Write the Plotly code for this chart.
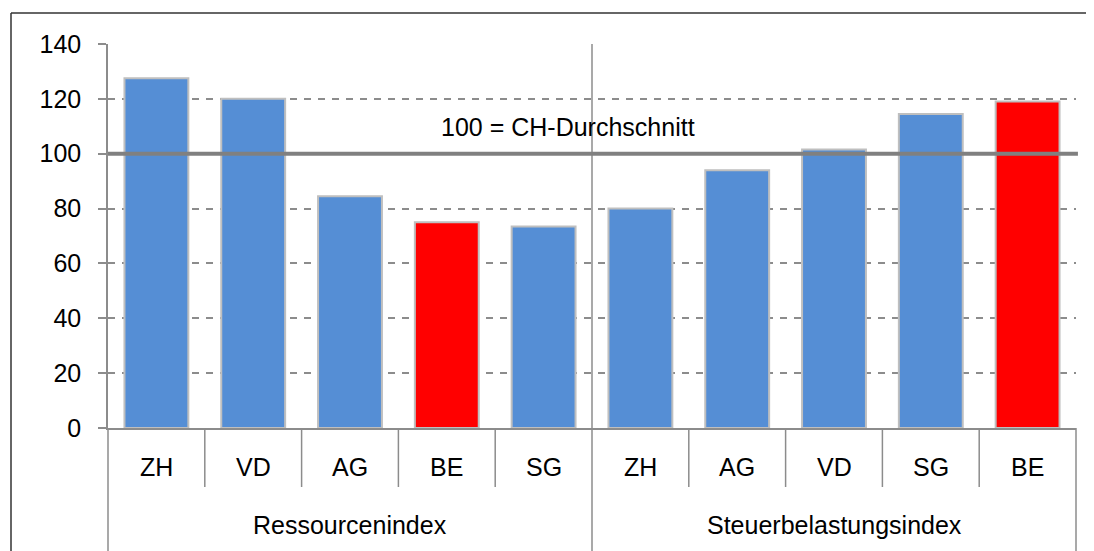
import plotly.graph_objects as go

groups = ["Ressourcenindex"] * 5 + ["Steuerbelastungsindex"] * 5
cantons = ["ZH", "VD", "AG", "BE", "SG", "ZH", "AG", "VD", "SG", "BE"]
values = [127.5, 120, 84.5, 75, 73.5, 80, 94, 101.5, 114.5, 119]
group_names = ["Ressourcenindex", "Steuerbelastungsindex"]
y_ticks = [0, 20, 40, 60, 80, 100, 120, 140]
ref_value = 100
ref_label = "100 = CH-Durchschnitt"

BLUE = "#558ED5"
RED = "#FF0000"
GRAY = "#8C8C8C"
FONT = "Liberation Sans, Arial, sans-serif"
FS = 25

colors = [RED if c == "BE" else BLUE for c in cantons]
x_keys = [f"{g} | {c}" for g, c in zip(groups, cantons)]

# page offset (body margin) compensation: window coords -> figure coords
OFF = 8
W, H = 1094 - OFF, 551 - OFF
L, T = 108 - OFF, 44 - OFF
R = W - (1076 - OFF)
B = H - (428 - OFF)
pw, ph = W - L - R, H - T - B

def px_x(x):  # window pixel -> paper
    return (x - OFF - L) / pw

def px_y(y):
    return (H - B - (y - OFF)) / ph

fig = go.Figure()
fig.add_trace(go.Bar(
    x=x_keys, y=values,
    marker=dict(color=colors, line=dict(color="#BFBFBF", width=2)),
    hovertext=[f"{g}: {c}" for g, c in zip(groups, cantons)],
    hoverinfo="text+y",
))

n = len(cantons)
shapes = []
for k in range(1, n):
    if k == n // 2:
        continue
    shapes.append(dict(type="line", xref="paper", yref="paper",
                       x0=k / n, x1=k / n, y0=0, y1=px_y(487),
                       line=dict(color=GRAY, width=1.5)))
shapes.append(dict(type="line", xref="paper", yref="paper",
                   x0=0.5, x1=0.5, y0=1, y1=px_y(560),
                   line=dict(color=GRAY, width=1.5)))
shapes.append(dict(type="line", xref="paper", yref="paper",
                   x0=0, x1=0, y0=0, y1=px_y(560),
                   line=dict(color=GRAY, width=1.5)))
shapes.append(dict(type="line", xref="paper", yref="paper",
                   x0=1, x1=1, y0=0, y1=px_y(560),
                   line=dict(color=GRAY, width=1.5)))
shapes.append(dict(type="line", xref="paper", yref="y",
                   x0=0, x1=1.002, y0=ref_value, y1=ref_value,
                   line=dict(color="#808080", width=4), layer="above"))
shapes.append(dict(type="line", xref="paper", yref="paper",
                   x0=px_x(11), x1=px_x(1110), y0=px_y(13), y1=px_y(13),
                   line=dict(color="#333333", width=1.5)))
shapes.append(dict(type="line", xref="paper", yref="paper",
                   x0=px_x(11), x1=px_x(11), y0=px_y(13), y1=px_y(570),
                   line=dict(color="#333333", width=1.5)))

annotations = []
for i, c in enumerate(cantons):
    annotations.append(dict(text=c, xref="paper", yref="paper",
                            x=(i + 0.5) / n, y=px_y(467), showarrow=False,
                            xanchor="center", yanchor="middle",
                            font=dict(family=FONT, size=FS, color="black")))
for j, g in enumerate(group_names):
    annotations.append(dict(text=g, xref="paper", yref="paper",
                            x=(j + 0.5) / len(group_names), y=px_y(525),
                            showarrow=False, xanchor="center", yanchor="middle",
                            font=dict(family=FONT, size=FS, color="black")))
annotations.append(dict(text=ref_label, xref="paper", yref="y",
                        x=px_x(568), y=109.7, showarrow=False,
                        xanchor="center", yanchor="middle",
                        font=dict(family=FONT, size=FS, color="black")))

fig.update_layout(
    width=W, height=H,
    margin=dict(l=L, r=R, t=T, b=B, autoexpand=False),
    paper_bgcolor="white", plot_bgcolor="white",
    bargap=0.34,
    showlegend=False,
    shapes=shapes,
    annotations=annotations,
    font=dict(family=FONT, size=FS, color="black"),
)
fig.update_xaxes(
    type="category", categoryorder="array", categoryarray=x_keys,
    showticklabels=False, ticks="",
    showgrid=False, showline=True, linecolor=GRAY, linewidth=2,
)
fig.update_yaxes(
    range=[0, 140], tickvals=y_ticks, ticks="outside", ticklen=8,
    tickcolor=GRAY, tickwidth=1.5, showline=True, linecolor=GRAY, linewidth=1.5,
    showgrid=True, gridcolor=GRAY, gridwidth=1.5, griddash="7px,7px",
    zeroline=False, ticklabelstandoff=12,
    tickfont=dict(family=FONT, size=FS, color="black"),
)

fig.write_html("out.html")
